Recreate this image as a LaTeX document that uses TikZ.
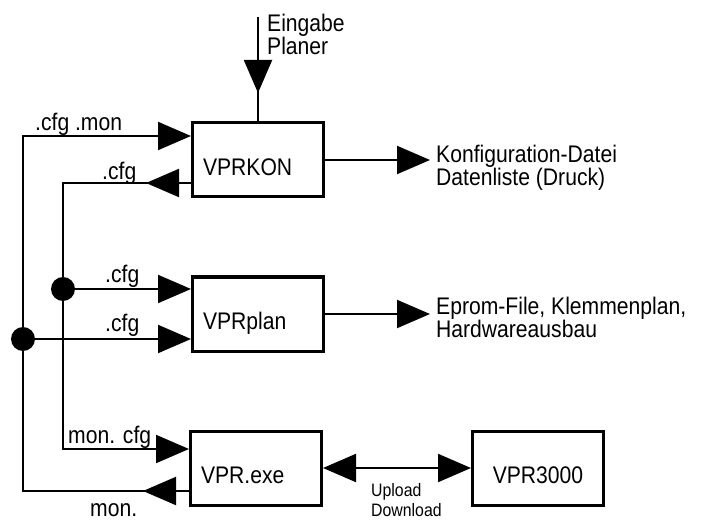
\documentclass[tikz,border=0pt]{standalone}
\usepackage{fontspec}
\setmainfont{Liberation Sans}[FakeStretch=0.88]
\usetikzlibrary{positioning, arrows.meta, decorations.markings}

\begin{document}
\begin{tikzpicture}[
    x=1pt, y=-1pt,
    font=\fontsize{24}{23}\selectfont,
    box/.style={rectangle, draw, line width=3pt, minimum width=131pt, minimum height=74pt, inner xsep=10.5pt, text width=110pt, align=left, text height=31pt, text depth=0pt},
    wire/.style={line width=2pt, line cap=rect},
    arrow/.style={wire, -{Triangle[length=33pt, width=28pt]}},
    darrow/.style={wire, {Triangle[length=33pt, width=28pt]}-{Triangle[length=33pt, width=28pt]}},
    midarrow/.style={wire, postaction={decorate}, decoration={markings, mark=at position #1 with {\arrow{Triangle[length=33pt, width=28pt]}}}},
    lbl/.style={inner sep=0pt, anchor=base west, align=left},
    joint/.style={circle, fill, inner sep=0pt, minimum size=24pt}
]
\useasboundingbox (0,0) rectangle (709,521);

% Programs
\node[box] (kon) at (258,160) {VPRKON};
\node[box] (plan) at (258,314) {VPRplan};
\node[box] (exe) at (256,468) {VPR.exe};
\node[box, align=center, right=148pt of exe] (vpr) {VPR3000};

% File buses on the left
\coordinate (oTop) at (23,136);
\coordinate (oDot) at (23,339);
\coordinate (oBot) at (23,491);
\coordinate (iTop) at (63,183);
\coordinate (iDot) at (63,289);
\coordinate (iBot) at (63,449);
\coordinate (eIn) at (258,18);

\draw[wire] (oTop) -- (oBot);
\draw[wire] (iTop) -- (iBot);

% Connections to and from the programs
\draw[arrow] (oTop) -- (kon.west |- oTop);
\draw[midarrow=45pt] (kon.west |- iTop) -- (iTop);
\draw[arrow] (iDot) -- (plan.west |- iDot);
\draw[arrow] (oDot) -- (plan.west |- oDot);
\draw[arrow] (iBot) -- (exe.west |- iBot);
\draw[midarrow=46pt] (exe.west |- oBot) -- (oBot);
\draw[midarrow=75pt] (eIn) -- (kon.north);
\draw[darrow] (exe) -- (vpr);

% Results (base = baseline of the last line)
\node[lbl] (konTxt) at (436,186) {Konfiguration-Datei\\Datenliste (Druck)};
\node[lbl] (planTxt) at (436,337) {Eprom-File, Klemmenplan,\\Hardwareausbau};
\draw[arrow, shorten >=6pt] (kon.east) -- (kon.east -| konTxt.west);
\draw[arrow, shorten >=6pt] (plan.east) -- (plan.east -| planTxt.west);

% Labels
\node[lbl] (cfgMon) at (35,131) {.cfg .mon};
\node[lbl] (cfgBack) at (102,180) {.cfg};
\node[lbl] (cfgIn) at (105,282) {.cfg};
\node[lbl] (cfgOut) at (105,331) {.cfg};
\node[lbl] (monCfg) at (68,443) {mon. cfg};
\node[lbl] (monBack) at (90,516) {mon.};
\node[lbl] (eingTxt) at (267,55) {Eingabe\\Planer};
\node[lbl, font=\fontsize{18}{20}\selectfont] (updown) at (371,516) {Upload\\Download};

% Junctions
\node[joint] (iJoint) at (iDot) {};
\node[joint] (oJoint) at (oDot) {};

\end{tikzpicture}
\end{document}
